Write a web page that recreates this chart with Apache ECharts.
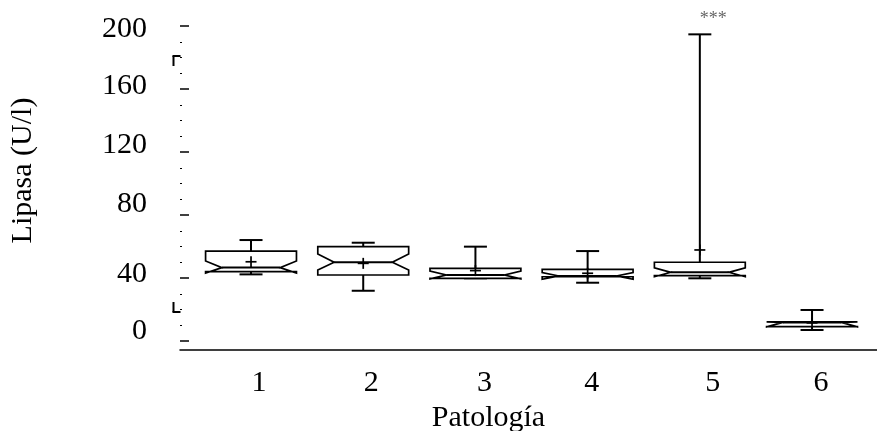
<!DOCTYPE html>
<html>
<head>
<meta charset="utf-8">
<script src="https://cdn.jsdelivr.net/npm/echarts@6/dist/echarts.min.js"></script>
<style>
  html, body { margin: 0; padding: 0; background: #fff; }
  #chart { width: 877px; height: 431px; }
</style>
</head>
<body>
<div id="chart"></div>
<script>
// Lipase by pathology group: notched box plots with mean markers.
var categories = ['1', '2', '3', '4', '5', '6'];
var whiskerLow  = [42.3, 31.9, 39.8, 37.0, 39.8, 7.0];
var quartile1   = [44.0, 41.9, 39.8, 40.8, 41.5, 9.1];
var notchLow    = [43.2, 45.1, 39.4, 39.2, 40.8, 9.0];
var medians     = [46.6, 50.0, 41.9, 41.3, 43.6, 11.8];
var notchHigh   = [50.8, 55.2, 44.4, 43.5, 46.5, 12.2];
var quartile3   = [57.1, 59.9, 46.1, 45.5, 50.0, 12.2];
var whiskerHigh = [64.1, 62.4, 59.9, 57.1, 194.7, 19.7];
var means       = [50.3, 49.3, 44.7, 43.0, 57.8, 11.5];
var flags       = ['', '', '', '', '***', ''];
var yTicks      = [0, 40, 80, 120, 160, 200];
// data range brackets on the value axis: [low end, high end]
var yRangeMarks = [18.6, 181];

var FONT = "'Liberation Serif', 'Times New Roman', serif";
var FS = 30;

var boxData = categories.map(function (c, i) {
  return [i + 1, whiskerLow[i], quartile1[i], notchLow[i], medians[i],
          notchHigh[i], quartile3[i], whiskerHigh[i], means[i]];
});

// small vertical nudges of the y tick labels (px, positive = down)
var yShift = { 0: -10, 40: -4, 80: -11, 120: -7, 160: -3, 200: 3 };
var yRich = {};
yTicks.forEach(function (v) {
  var s = yShift[v] || 0;
  yRich['p' + v] = {
    fontFamily: FONT, fontSize: FS, color: '#000',
    padding: s > 0 ? [2 * s, 0, 0, 0] : [0, 0, -2 * s, 0]
  };
});
var xShift = [8, 8, 9, 4, 13, 9];
var xRich = {};
categories.forEach(function (c, i) {
  xRich['c' + c] = { fontFamily: FONT, fontSize: FS, color: '#000',
                     padding: [0, 0, 0, 2 * xShift[i]] };
});

function renderBox(params, api) {
  var x = api.value(0);
  var unit = api.size([1, 0])[0];
  var half = unit * 0.405;
  var inner = half * 0.64;
  var cap = 11.5;
  var cx = api.coord([x, 0])[0];
  function Y(idx) { return api.coord([x, api.value(idx)])[1]; }
  var yWLo = Y(1), yQ1 = Y(2), yNLo = Y(3), yMed = Y(4),
      yNHi = Y(5), yQ3 = Y(6), yWHi = Y(7), yMean = Y(8);
  var L = cx - half, R = cx + half;
  var stroke = { stroke: '#000', lineWidth: 2 };
  var children = [
    { type: 'line', shape: { x1: cx, y1: yQ3, x2: cx, y2: yWHi }, style: stroke },
    { type: 'line', shape: { x1: cx - cap, y1: yWHi, x2: cx + cap, y2: yWHi }, style: stroke },
    { type: 'line', shape: { x1: cx, y1: yQ1, x2: cx, y2: yWLo }, style: stroke },
    { type: 'line', shape: { x1: cx - cap, y1: yWLo, x2: cx + cap, y2: yWLo }, style: stroke },
    { type: 'polygon', shape: { points: [
        [L, yQ3], [R, yQ3], [R, yNHi], [cx + inner, yMed], [R, yNLo], [R, yQ1],
        [L, yQ1], [L, yNLo], [cx - inner, yMed], [L, yNHi]
      ] }, style: { stroke: '#000', lineWidth: 1.7, fill: '#fff' } },
    { type: 'line', shape: { x1: cx - inner, y1: yMed, x2: cx + inner, y2: yMed }, style: stroke },
    { type: 'line', shape: { x1: cx - 5.5, y1: yMean, x2: cx + 5.5, y2: yMean }, style: { stroke: '#000', lineWidth: 1.7 } },
    { type: 'line', shape: { x1: cx, y1: yMean - 5.5, x2: cx, y2: yMean + 5.5 }, style: { stroke: '#000', lineWidth: 1.7 } }
  ];
  var flag = flags[params.dataIndex];
  if (flag) {
    children.push({ type: 'text', x: cx, y: yWHi - 15,
      style: { text: flag, fill: '#666', font: '18px ' + FONT, align: 'left', verticalAlign: 'middle' } });
  }
  return { type: 'group', children: children };
}

// bracket corners beside the value axis marking the data range
function renderRange(params, api) {
  var p = api.coord([0.367, api.value(0)]);
  var x = Math.round(p[0]) - 6.5, y = Math.round(p[1]);
  var top = params.dataIndex === 1;
  var dy = top ? 10 : -10;
  return { type: 'group', children: [
    { type: 'line', shape: { x1: x, y1: y, x2: x, y2: y + dy }, style: { stroke: '#000', lineWidth: 2 } },
    { type: 'line', shape: { x1: x - 1, y1: y, x2: x + 7, y2: y }, style: { stroke: '#000', lineWidth: 2 } }
  ] };
}

var chart = echarts.init(document.getElementById('chart'), null, { renderer: 'canvas' });
chart.setOption({
  animation: false,
  backgroundColor: '#fff',
  grid: { left: 180, right: 0, top: 26, bottom: 90, containLabel: false, outerBoundsMode: 'none' },
  xAxis: {
    type: 'value',
    min: 0.367, max: 6.579,
    offset: 9,
    name: 'Patología',
    nameLocation: 'middle',
    nameGap: 52,
    nameTextStyle: { fontFamily: FONT, fontSize: FS, color: '#000', padding: [0, 80, 0, 0] },
    axisLine: { show: true, onZero: false, lineStyle: { color: '#000', width: 1.5 } },
    axisTick: { show: false },
    splitLine: { show: false },
    axisLabel: {
      customValues: [1, 2, 3, 4, 5, 6],
      margin: 18,
      formatter: function (v) { var c = categories[Math.round(v) - 1]; return '{c' + c + '|' + c + '}'; },
      rich: xRich
    }
  },
  yAxis: {
    type: 'value',
    min: 0, max: 200, interval: 40,
    name: 'Lipasa (U/l)',
    nameLocation: 'middle',
    nameGap: 142,
    nameTextStyle: { fontFamily: FONT, fontSize: FS, color: '#000', padding: [0, 0, 0, 26] },
    axisLine: { show: false },
    axisTick: { show: true, inside: true, length: 9, lineStyle: { color: '#000', width: 1.5 } },
    minorTick: { show: true, splitNumber: 4, length: 2, lineStyle: { color: '#000', width: 1.2 } },
    splitLine: { show: false },
    axisLabel: {
      margin: 33,
      formatter: function (v) { return '{p' + v + '|' + v + '}'; },
      rich: yRich
    }
  },
  series: [{
    type: 'custom',
    renderItem: renderBox,
    data: boxData,
    encode: { x: 0, y: [1, 7] },
    clip: false,
    silent: true
  }, {
    type: 'custom',
    renderItem: renderRange,
    data: yRangeMarks.map(function (v) { return [v]; }),
    encode: { y: 0 },
    clip: false,
    silent: true
  }]
});
</script>
</body>
</html>
